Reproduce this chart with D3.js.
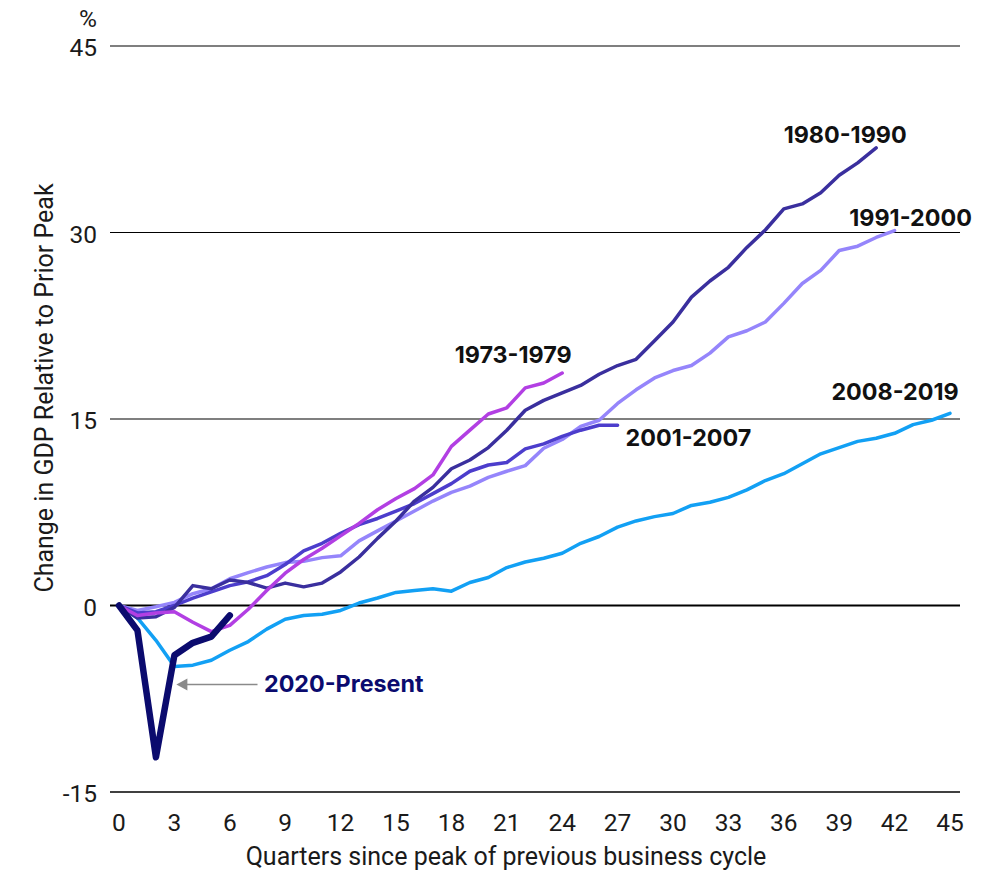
<!DOCTYPE html>
<html>
<head>
<meta charset="utf-8">
<script src="https://cdn.jsdelivr.net/npm/d3@7/dist/d3.min.js"></script>
<style>
  html, body { margin: 0; padding: 0; background: #fff; }
  svg { display: block; }
  .tick-label { font-family: Roboto, "Liberation Sans", sans-serif; font-size: 24.5px; fill: #1a1a1a; }
  .axis-title { font-family: Roboto, "Liberation Sans", sans-serif; font-size: 25px; fill: #1a1a1a; }
  .series-label { font-family: Inter, Roboto, sans-serif; font-size: 23.3px; font-weight: 700; fill: #111; }
</style>
</head>
<body>
<svg id="chart" width="1006" height="873"></svg>
<script>
// Real GDP change relative to the prior business-cycle peak, by quarter since that peak (%)
const quarterTicks = [0, 3, 6, 9, 12, 15, 18, 21, 24, 27, 30, 33, 36, 39, 42, 45];
const valueTicks = [-15, 0, 15, 30, 45];

const cycle1973 = [0, -0.8, -0.6, -0.5, -1.35, -2.1, -1.6, -0.3, 1.2, 2.6, 3.7, 4.6, 5.6, 6.6, 7.7, 8.6, 9.4, 10.5, 12.8, 14.1, 15.4, 15.9, 17.5, 17.9, 18.7];
const cycle1980 = [0, -1.0, -0.9, -0.15, 1.6, 1.35, 2.05, 1.85, 1.4, 1.8, 1.5, 1.8, 2.7, 3.9, 5.4, 6.8, 8.4, 9.5, 11.0, 11.7, 12.7, 14.1, 15.7, 16.5, 17.1, 17.7, 18.6, 19.3, 19.8, 21.3, 22.8, 24.8, 26.1, 27.2, 28.8, 30.2, 31.9, 32.3, 33.2, 34.6, 35.6, 36.8];
const cycle1991 = [0, -0.4, -0.1, 0.25, 0.95, 1.35, 2.15, 2.65, 3.1, 3.45, 3.55, 3.85, 4.0, 5.2, 6.0, 6.8, 7.6, 8.4, 9.1, 9.6, 10.3, 10.8, 11.25, 12.65, 13.35, 14.4, 14.9, 16.25, 17.35, 18.3, 18.9, 19.3, 20.3, 21.6, 22.1, 22.8, 24.3, 25.9, 26.95, 28.55, 28.9, 29.6, 30.15];
const cycle2001 = [0, -0.6, -0.5, 0.0, 0.6, 1.1, 1.6, 1.9, 2.4, 3.3, 4.4, 5.0, 5.8, 6.5, 7.0, 7.6, 8.2, 9.0, 9.8, 10.8, 11.3, 11.5, 12.6, 13.0, 13.6, 14.1, 14.5, 14.5];
const cycle2008 = [0, -1.0, -2.8, -4.9, -4.8, -4.4, -3.6, -2.9, -1.9, -1.1, -0.8, -0.7, -0.4, 0.2, 0.6, 1.05, 1.2, 1.35, 1.15, 1.85, 2.25, 3.05, 3.5, 3.8, 4.2, 5.0, 5.55, 6.3, 6.8, 7.15, 7.4, 8.05, 8.3, 8.7, 9.3, 10.05, 10.6, 11.4, 12.2, 12.7, 13.2, 13.45, 13.85, 14.55, 14.9, 15.45];
const cycle2020 = [0, -2.0, -12.2, -4.0, -3.0, -2.5, -0.8];

const seriesNames = ["2008-2019", "1991-2000", "2001-2007", "1980-1990", "1973-1979", "2020-Present"];
const seriesValues = [cycle2008, cycle1991, cycle2001, cycle1980, cycle1973, cycle2020];
const seriesColors = ["#12a0f4", "#9585fb", "#4c3dcc", "#3a2f9e", "#b23fe3", "#0b0b6e"];
const seriesWidths = [3.5, 3.5, 3.5, 3.5, 3.5, 6.5];

const svg = d3.select("#chart");
const x = d3.scaleLinear().domain([0, 45]).range([119, 950]);
const y = d3.scaleLinear().domain([-15, 45]).range([792, 46]);

// horizontal gridlines
svg.append("g").selectAll("line")
  .data(valueTicks)
  .join("line")
  .attr("x1", 110).attr("x2", 960)
  .attr("y1", d => y(d)).attr("y2", d => y(d))
  .attr("stroke", "#000")
  .attr("stroke-width", d => d === 0 ? 2.2 : (d === -15 ? 1.6 : 1.1));

// y tick labels
svg.append("g").selectAll("text")
  .data(valueTicks)
  .join("text")
  .attr("class", "tick-label")
  .attr("x", 97)
  .attr("y", d => y(d) + 4)
  .attr("text-anchor", "end")
  .attr("dominant-baseline", "middle")
  .text(d => d);

svg.append("text")
  .attr("class", "tick-label")
  .attr("x", 97).attr("y", 21)
  .attr("text-anchor", "end")
  .attr("dominant-baseline", "middle")
  .text("%");

// x tick labels
svg.append("g").selectAll("text")
  .data(quarterTicks)
  .join("text")
  .attr("class", "tick-label")
  .attr("x", d => x(d))
  .attr("y", 831)
  .attr("text-anchor", "middle")
  .text(d => d);

// axis titles
svg.append("text")
  .attr("class", "axis-title")
  .attr("x", 506).attr("y", 865)
  .attr("text-anchor", "middle")
  .text("Quarters since peak of previous business cycle");

svg.append("text")
  .attr("class", "axis-title")
  .attr("transform", "translate(53,388) rotate(-90)")
  .attr("text-anchor", "middle")
  .text("Change in GDP Relative to Prior Peak");

// series lines
const line = d3.line()
  .x((d, i) => x(i))
  .y(d => y(d));

svg.append("g").selectAll("path")
  .data(seriesValues)
  .join("path")
  .attr("d", d => line(d))
  .attr("fill", "none")
  .attr("stroke", (d, i) => seriesColors[i])
  .attr("stroke-width", (d, i) => seriesWidths[i])
  .attr("stroke-linejoin", "round")
  .attr("stroke-linecap", "round");

// series labels
const labels = [
  { name: "1980-1990", q: 41, dx: -31, dy: -5, anchor: "middle", color: "#111" },
  { name: "1991-2000", q: 42, dx: 16, dy: -5, anchor: "middle", color: "#111" },
  { name: "1973-1979", q: 24, dx: -49, dy: -10, anchor: "middle", color: "#111" },
  { name: "2001-2007", q: 27, dx: 8, dy: 21, anchor: "start", color: "#111" },
  { name: "2008-2019", q: 45, dx: -55, dy: -13, anchor: "middle", color: "#111" }
];
const valuesByName = Object.fromEntries(seriesNames.map((n, i) => [n, seriesValues[i]]));

svg.append("g").selectAll("text")
  .data(labels)
  .join("text")
  .attr("class", "series-label")
  .attr("x", d => x(d.q) + d.dx)
  .attr("y", d => y(valuesByName[d.name][d.q]) + d.dy)
  .attr("text-anchor", d => d.anchor)
  .style("fill", d => d.color)
  .text(d => d.name);

// pointer to the 2020 trough recovery
const arrowY = y(-6.35);
const arrowTipX = x(3) + 2;
svg.append("line")
  .attr("x1", x(7.5)).attr("x2", arrowTipX + 8)
  .attr("y1", arrowY).attr("y2", arrowY)
  .attr("stroke", "#8a8a8a").attr("stroke-width", 1.6);
svg.append("path")
  .attr("d", `M${arrowTipX},${arrowY} l11,-6 l0,12 z`)
  .attr("fill", "#8a8a8a");

svg.append("text")
  .attr("class", "series-label")
  .attr("x", x(7.85)).attr("y", arrowY + 8)
  .attr("text-anchor", "start")
  .style("fill", "#0b0b6e")
  .text("2020-Present");
</script>
</body>
</html>
